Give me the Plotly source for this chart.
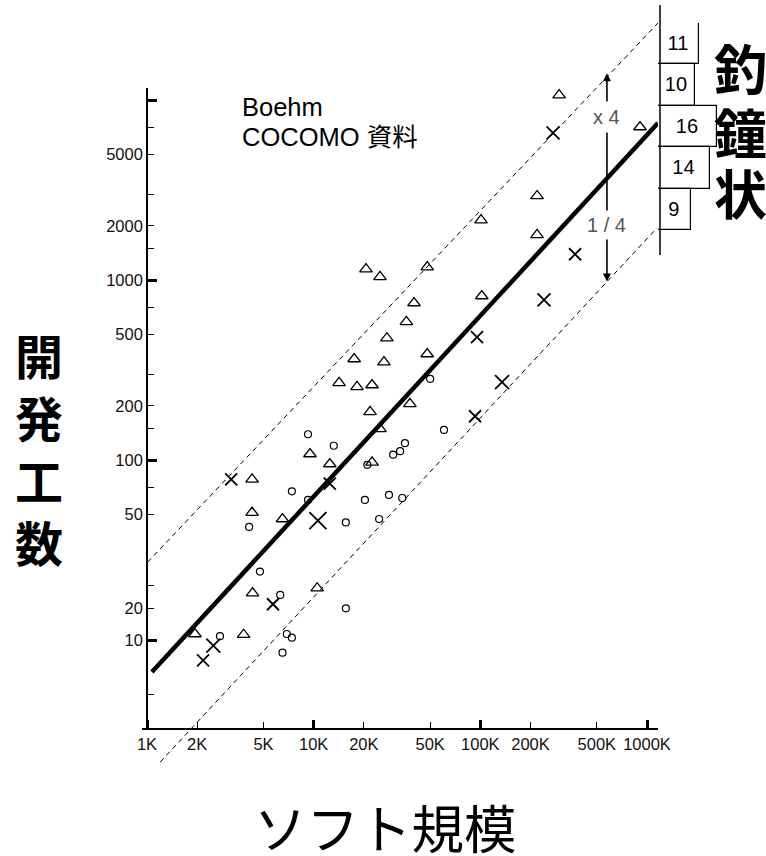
import numpy as np
import plotly.graph_objects as go

W, H = 766, 856

# ---------------- data: software size (K lines) vs development effort ----------------
tri_size = [20.6, 25, 48, 40, 36, 27.5, 17.5, 26.4, 48, 14.2, 18.2, 22.4, 21.8, 37.8, 25,
            9.5, 12.5, 22.4, 4.27, 4.27, 6.5, 4.3, 1.94, 3.8, 10.5, 297, 908, 219, 101, 219, 102]
tri_effort = [1150, 1040, 1180, 745, 585, 475, 364, 350, 388, 268, 255, 261, 185, 205, 149,
              108, 95, 97, 78, 51, 47, 18.2, 10.8, 10.7, 19.4, 10650, 7080, 2930, 2150, 1780, 815]

circ_size = [9.25, 13.2, 50, 35.3, 33, 30, 21, 7.4, 9.25, 20.3, 28.3, 34, 15.6, 24.7, 4.1,
             4.76, 6.3, 2.74, 6.9, 7.4, 6.5, 15.6, 60.5]
circ_effort = [139, 120, 282, 124, 112, 107, 94, 67, 60, 60, 64, 61.5, 45, 47, 42.5,
               24, 17.8, 10.5, 10.8, 10.3, 8.5, 15, 147]

cross_size = [3.2, 12.5, 10.6, 2.17, 2.5, 5.7, 273, 370, 241, 95.5, 135, 93]
cross_effort = [78, 74, 46, 7.7, 9.3, 15.8, 6560, 1390, 775, 482, 271, 175]

# trend line and the x4 / x1/4 band
main_size, main_effort = [1.07, 1164], [6.64, 7450]
upper_size, upper_effort = [1.01, 1164], [27.1, 26790]
lower_size, lower_effort = [1.2, 1148], [2.1, 1945]

# band arrow
arrow_size = 575
arrow_top, arrow_bottom = 14100, 962
label_x4_effort, label_q_effort = 8050, 2020

# spread histogram along the right edge (top to bottom)
hist_bins = ["b1", "b2", "b3", "b4", "b5"]
hist_counts = [11, 10, 16, 14, 9]

# axis ticks
x_tick_vals = [1, 2, 5, 10, 20, 50, 100, 200, 500, 1000]
x_tick_text = ["1K", "2K", "5K", "10K", "20K", "50K", "100K", "200K", "500K", "1000K"]
x_heavy = [1, 10, 100, 1000]
y_tick_vals = [5, 10, 15, 20, 50, 70, 100, 150, 200, 300, 500, 700, 1000, 1500, 2000, 3000, 5000, 7000]
y_tick_text = ["", "10", "20", "", "50", "", "100", "", "200", "", "500", "", "1000", "", "2000", "", "5000", ""]
y_heavy = [10, 100, 1000, 10000]

# ---------------- geometry helpers (pixel <-> log scale) ----------------
PX_DEC_X, PX_DEC_Y = 500 / 3, 180.0
X1K_PX, Y10_PX = 147, 640


def xlog(px):
    return (px - X1K_PX) / PX_DEC_X


def ylog(py):
    return 1 + (Y10_PX - py) / PX_DEC_Y


AX_L, AX_R, AX_T, AX_B = 142, 658, 88, 728
YAX_X = 147

cross_sym_size = [12, 12, 17, 12, 14, 12, 13, 12, 13, 12, 14, 12]

fig = go.Figure()

dash = dict(color="black", width=1, dash="5px,4px")
fig.add_trace(go.Scatter(x=upper_size, y=upper_effort, mode="lines", line=dash, hoverinfo="skip"))
fig.add_trace(go.Scatter(x=lower_size, y=lower_effort, mode="lines", line=dash, hoverinfo="skip"))
fig.add_trace(go.Scatter(x=main_size, y=main_effort, mode="lines",
                         line=dict(color="black", width=4.5), hoverinfo="skip"))

fig.add_trace(go.Scatter(x=tri_size, y=tri_effort, mode="markers",
                         marker=dict(symbol="triangle-up-open", size=11, color="black",
                                     line=dict(width=1.3, color="black"))))
fig.add_trace(go.Scatter(x=circ_size, y=circ_effort, mode="markers",
                         marker=dict(symbol="circle-open", size=7, color="black",
                                     line=dict(width=1.2, color="black"))))
fig.add_trace(go.Scatter(x=cross_size, y=cross_effort, mode="markers",
                         marker=dict(symbol="x-thin", size=cross_sym_size, color="black",
                                     opacity=1, line=dict(width=1.8, color="black"))))

# empty traces to register the visible axis subplots
fig.add_trace(go.Scatter(x=[], y=[], xaxis="x2", yaxis="y2", hoverinfo="skip"))
fig.add_trace(go.Scatter(x=[], y=[], xaxis="x3", yaxis="y2", hoverinfo="skip"))
fig.add_trace(go.Scatter(x=[], y=[], xaxis="x2", yaxis="y3", hoverinfo="skip"))

# histogram of spread
fig.add_trace(go.Bar(x=hist_counts, y=hist_bins, orientation="h", xaxis="x4", yaxis="y4",
                     marker=dict(color="white", line=dict(color="black", width=1.2)),
                     texttemplate="%{x}", textposition="inside", insidetextanchor="middle",
                     textfont=dict(size=20, color="black", family="Liberation Sans"),
                     hoverinfo="skip"))

tick_font = dict(family="Liberation Sans, Arial", size=16.5, color="#111")
xr = [xlog(AX_L), xlog(AX_R)]
yr = [ylog(AX_B), ylog(AX_T)]

fig.update_layout(
    width=W, height=H, autosize=False,
    margin=dict(l=0, r=0, t=0, b=0, autoexpand=False),
    paper_bgcolor="white", plot_bgcolor="rgba(0,0,0,0)", showlegend=False, bargap=0,
    xaxis=dict(type="log", domain=[0, 1], range=[xlog(0), xlog(W)], visible=False,
               automargin=False),
    yaxis=dict(type="log", domain=[0, 1], range=[ylog(H), ylog(0)], visible=False,
               automargin=False),
    xaxis2=dict(type="log", domain=[AX_L / W, AX_R / W], range=xr, anchor="y2",
                tickmode="array", tickvals=x_tick_vals, ticktext=x_tick_text,
                ticks="inside", ticklen=6, tickwidth=1.2, tickcolor="black",
                showline=True, linecolor="black", linewidth=1.6, automargin=False,
                showgrid=False, zeroline=False, tickfont=tick_font),
    yaxis2=dict(type="log", domain=[1 - AX_B / H, 1 - AX_T / H], range=yr,
                anchor="free", position=YAX_X / W, side="left",
                tickmode="array", tickvals=y_tick_vals, ticktext=y_tick_text,
                ticks="inside", ticklen=6, tickwidth=1.2, tickcolor="black",
                showline=True, linecolor="black", linewidth=1.6, automargin=False,
                showgrid=False, zeroline=False, tickfont=tick_font),
    xaxis3=dict(type="log", overlaying="x2", anchor="y2", range=xr, automargin=False,
                tickmode="array", tickvals=x_heavy, ticks="inside", ticklen=8, tickwidth=3,
                tickcolor="black", showticklabels=False, showline=False,
                showgrid=False, zeroline=False),
    yaxis3=dict(type="log", overlaying="y2", anchor="free", position=YAX_X / W, side="left",
                range=yr, tickmode="array", tickvals=y_heavy, ticks="inside", ticklen=9,
                tickwidth=3, tickcolor="black", showticklabels=False, showline=False,
                showgrid=False, zeroline=False, automargin=False),
    xaxis4=dict(domain=[658 / W, 1], range=[0, (W - 658) / 3.69], visible=False, anchor="y4",
                automargin=False),
    yaxis4=dict(domain=[1 - 230 / H, 1 - 23 / H], type="category", autorange="reversed",
                visible=False, anchor="x4", automargin=False),
)

# histogram base line
fig.add_shape(type="line", xref="paper", yref="paper", x0=660 / W, x1=660 / W,
              y0=1 - 5 / H, y1=1 - 255 / H, line=dict(color="black", width=1.5))

ann = []
# band arrow (both heads)
ann.append(dict(x=np.log10(arrow_size), y=np.log10(arrow_top), xref="x", yref="y",
                ax=np.log10(arrow_size), ay=np.log10(arrow_bottom), axref="x", ayref="y",
                text="", showarrow=True, arrowside="end+start", arrowhead=2, startarrowhead=2,
                arrowsize=1, startarrowsize=1, arrowwidth=1.6, arrowcolor="black",
                standoff=0, startstandoff=0))
lab_font = dict(family="Liberation Sans, Arial", size=20, color="#555")
ann.append(dict(x=np.log10(arrow_size), y=np.log10(label_x4_effort), xref="x", yref="y",
                text="x 4", showarrow=False, font=lab_font, bgcolor="white", borderpad=4))
ann.append(dict(x=np.log10(arrow_size), y=np.log10(label_q_effort), xref="x", yref="y",
                text="1 / 4", showarrow=False, font=lab_font, bgcolor="white", borderpad=3))

note_font = dict(family="Liberation Sans, Noto Sans CJK JP", size=25.5, color="black")
ann.append(dict(x=240 / W, y=1 - 107 / H, xref="paper", yref="paper", xanchor="left",
                yanchor="middle", text="Boehm", showarrow=False, font=note_font))
ann.append(dict(x=240 / W, y=1 - 137 / H, xref="paper", yref="paper", xanchor="left",
                yanchor="middle", text="COCOMO 資料", showarrow=False, font=note_font))

# axis titles
ann.append(dict(x=39 / W, y=1 - 447 / H, xref="paper", yref="paper", xanchor="center",
                yanchor="middle", text="<b>開<br>発<br>工<br>数</b>", showarrow=False,
                font=dict(family="Noto Sans CJK JP", size=48, color="black")))
ann.append(dict(x=385 / W, y=1 - 826 / H, xref="paper", yref="paper", xanchor="center",
                yanchor="middle", text="ソフト規模", showarrow=False, borderpad=0,
                font=dict(family="Noto Sans CJK JP", size=52.5, color="black")))

# right-side caption
for ch, cy in zip("釣鐘状", [67, 131, 192]):
    ann.append(dict(x=740 / W, y=1 - cy / H, xref="paper", yref="paper", xanchor="center",
                    yanchor="middle", text=f"<b>{ch}</b>", showarrow=False,
                    font=dict(family="Noto Sans CJK JP", size=53, color="black")))

fig.update_layout(annotations=ann)

fig.write_html("out.html", config={"responsive": False})
